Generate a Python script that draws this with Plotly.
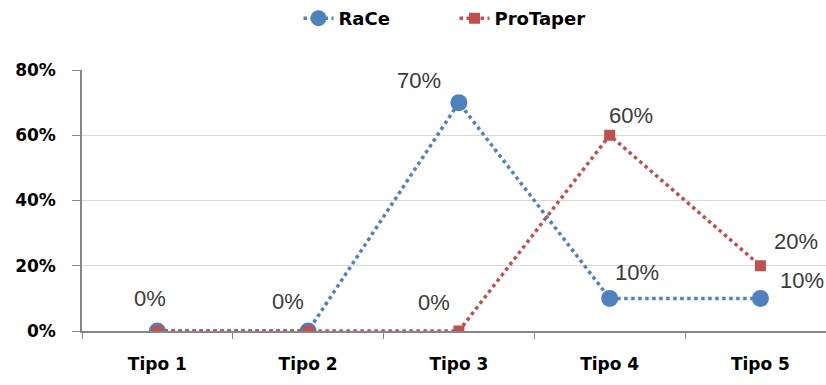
import plotly.graph_objects as go

categories = ["Tipo 1", "Tipo 2", "Tipo 3", "Tipo 4", "Tipo 5"]
race = [0.0, 0.0, 0.70, 0.10, 0.10]
protaper = [0.0, 0.0, 0.0, 0.60, 0.20]
y_ticks = [0, 0.2, 0.4, 0.6, 0.8]
y_tick_labels = ["0%", "20%", "40%", "60%", "80%"]

blue = "#4F81BD"
red = "#C0504D"

fig = go.Figure()
fig.add_trace(go.Scatter(
    x=categories, y=race, name="RaCe", mode="lines+markers",
    line=dict(color=blue, width=3.5, dash="dot"),
    marker=dict(symbol="circle", size=17, color=blue),
))
fig.add_trace(go.Scatter(
    x=categories, y=protaper, name="ProTaper", mode="lines+markers",
    line=dict(color=red, width=3.5, dash="dot"),
    marker=dict(symbol="square", size=11, color=red),
))

# data label offsets (pixels) per point
race_off = [(-7, 33), (-20, 30), (-40, 22), (27, 26), (42, 18)]
prot_off = [(0, 0), (0, 0), (-25, 29), (21, 20), (36, 24)]
lab_font = dict(family="Liberation Sans, Arial", size=22, color="#3A3A3A")
for i, c in enumerate(categories):
    fig.add_annotation(x=c, y=race[i], text=f"{round(race[i]*100)}%", showarrow=False,
                       xshift=race_off[i][0], yshift=race_off[i][1], font=lab_font)
for i, c in enumerate(categories):
    if i < 2:
        continue
    fig.add_annotation(x=c, y=protaper[i], text=f"{round(protaper[i]*100)}%", showarrow=False,
                       xshift=prot_off[i][0], yshift=prot_off[i][1], font=lab_font)

tick_font = dict(family="DejaVu Sans", size=17, color="#000000", weight="bold")
fig.update_layout(
    width=826, height=385,
    margin=dict(l=82, r=0, t=70, b=54),
    plot_bgcolor="white", paper_bgcolor="white",
    showlegend=True,
    legend=dict(orientation="h", x=0.291, xanchor="left", y=1.0, yanchor="top",
                yref="container", font=dict(family="DejaVu Sans", size=18, color="#000000", weight="bold"),
                entrywidth=111, entrywidthmode="pixels"),
    xaxis=dict(
        type="category", range=[-0.5, 4.435],
        showline=True, linecolor="#868686", linewidth=1.5,
        ticks="outside", tickson="boundaries", ticklen=6, tickcolor="#868686",
        tickfont=tick_font,
        ticklabelstandoff=17, showgrid=False, zeroline=False,
    ),
    yaxis=dict(
        range=[0, 0.8], tickvals=y_ticks, ticktext=y_tick_labels,
        showline=True, linecolor="#868686", linewidth=1.5,
        ticks="outside", ticklen=8, tickcolor="#868686",
        tickfont=tick_font,
        ticklabelstandoff=13,
        showgrid=True, gridcolor="#D9D9D9", gridwidth=1, zeroline=False,
    ),
)

fig.write_html("out.html")
